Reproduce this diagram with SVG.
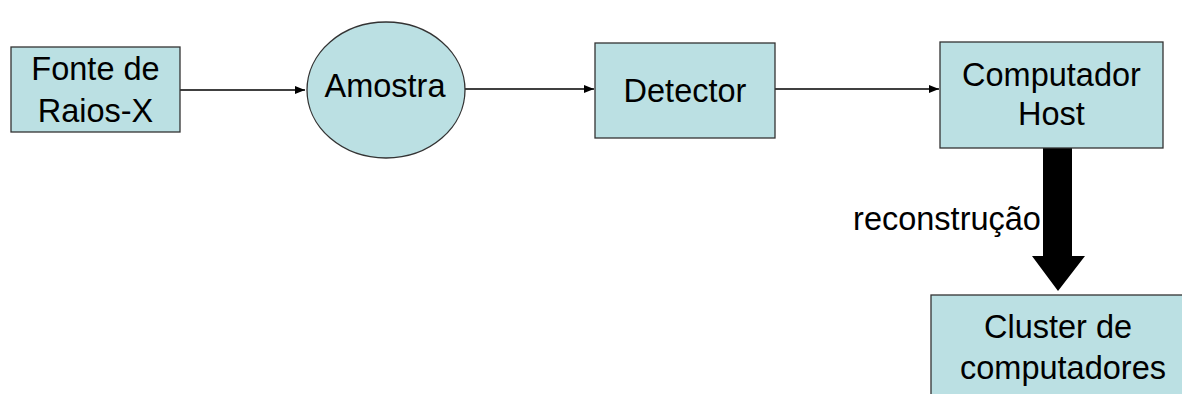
<svg xmlns="http://www.w3.org/2000/svg" width="1182" height="394" viewBox="0 0 1182 394">
  <style>
    .node { fill: #BBE0E3; stroke: #333333; stroke-width: 1.3; }
    .label { font-family: "Liberation Sans", Arial, sans-serif; font-size: 32.5px; fill: #000000; text-anchor: middle; }
    .flow { stroke: #000000; stroke-width: 1.3; fill: none; }
  </style>
  <defs>
    <marker id="head" viewBox="0 0 10 8" refX="10" refY="4" markerWidth="10" markerHeight="8" markerUnits="userSpaceOnUse" orient="auto">
      <path d="M0,0 L10,4 L0,8 Z" fill="#000000"/>
    </marker>
  </defs>
  <rect width="1182" height="394" fill="#ffffff"/>

  <g id="connectors">
    <line class="flow" x1="180" y1="90" x2="305" y2="90" marker-end="url(#head)"/>
    <line class="flow" x1="465" y1="89" x2="594" y2="89" marker-end="url(#head)"/>
    <line class="flow" x1="775" y1="89" x2="939" y2="89" marker-end="url(#head)"/>
    <!-- block arrow: host to cluster -->
    <path d="M1043,148 L1072,148 L1072,256 L1085,256 L1058,291 L1032,256 L1043,256 Z" fill="#000000"/>
    <text class="label" x="947" y="230">reconstrução</text>
  </g>

  <g id="fonte">
    <rect class="node" x="11" y="47" width="169" height="85"/>
    <text class="label" x="95.5" y="80">Fonte de</text>
    <text class="label" x="95.5" y="122">Raios-X</text>
  </g>

  <g id="amostra">
    <ellipse class="node" cx="386" cy="90" rx="79" ry="68"/>
    <text class="label" x="385" y="97">Amostra</text>
  </g>

  <g id="detector">
    <rect class="node" x="595" y="43" width="180" height="95"/>
    <text class="label" x="685" y="102">Detector</text>
  </g>

  <g id="host">
    <rect class="node" x="940" y="42" width="223" height="106"/>
    <text class="label" x="1051.5" y="86">Computador</text>
    <text class="label" x="1051.5" y="125">Host</text>
  </g>

  <g id="cluster">
    <rect class="node" x="931" y="295" width="270" height="120"/>
    <text class="label" x="1058" y="338">Cluster de</text>
    <text class="label" x="1063" y="379">computadores</text>
  </g>
</svg>
